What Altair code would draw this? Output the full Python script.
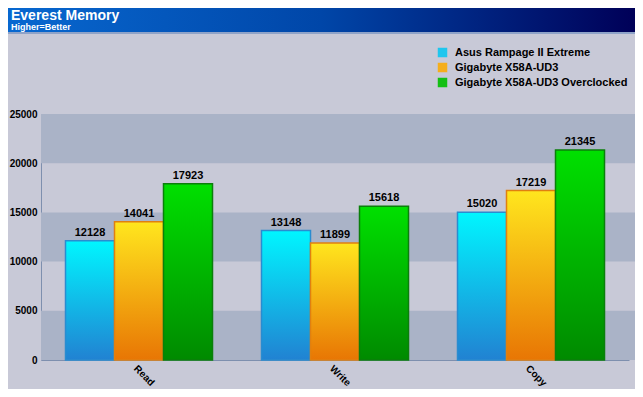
import altair as alt
import pandas as pd

categories = ["Read", "Write", "Copy"]
series = ["Asus Rampage II Extreme", "Gigabyte X58A-UD3", "Gigabyte X58A-UD3 Overclocked"]
asus = [12128, 13148, 15020]
gb = [14041, 11899, 17219]
gb_oc = [17923, 15618, 21345]
y_ticks = [0, 5000, 10000, 15000, 20000, 25000]

title_text = "Everest Memory"
subtitle_text = "Higher=Better"

rows = []
for s, vals in zip(series, [asus, gb, gb_oc]):
    for c, v in zip(categories, vals):
        rows.append({"cat": c, "series": s, "value": v})
df = pd.DataFrame(rows)

bands = pd.DataFrame({"y0": y_ticks[0:-1:2], "y1": y_ticks[1::2]})

FONT = "Liberation Sans"
PL, PT, PR, PB = 33, 106, 6, 29
W, H = 627 - PL - PR, 381 - PT - PB

solid = ["#1fc6ee", "#f5ae1c", "#14bf14"]
grads = [("#00f6ff", "#2182d2", "#2a8cd0"),
         ("#ffe61e", "#e87604", "#e08010"),
         ("#00e000", "#008a00", "#0b7f0b")]

x_enc = alt.X("cat:N", sort=categories,
              scale=alt.Scale(paddingInner=0.25, paddingOuter=0.125),
              axis=alt.Axis(title=None, labelAngle=45, labelFont=FONT, labelFontWeight="bold",
                            labelFontSize=10, labelColor="#000000", ticks=False,
                            domainColor="#7e8fae", labelPadding=3))
xo_enc = alt.XOffset("series:N", sort=series, scale=alt.Scale(paddingInner=0.0))
y_enc = alt.Y("value:Q", scale=alt.Scale(domain=[0, 25000], nice=False),
              axis=alt.Axis(title=None, values=y_ticks, grid=False, format="d", labelFont=FONT,
                            labelFontWeight="bold", labelFontSize=10, labelColor="#000000",
                            ticks=False, domainColor="#7e8fae", labelPadding=4))

band_layer = alt.Chart(bands).mark_rect(color="#aab3c7").encode(
    y=alt.Y("y0:Q", scale=alt.Scale(domain=[0, 25000], nice=False)),
    y2="y1:Q",
    x=alt.value(0), x2=alt.value(W + PR),
)

base = alt.Chart(df).mark_bar().encode(
    x=x_enc, xOffset=xo_enc, y=y_enc,
    color=alt.Color("series:N", sort=series,
                    scale=alt.Scale(domain=series, range=solid),
                    legend=alt.Legend(title=None, orient="none", legendX=W - 192, legendY=-67,
                                      symbolType="square", symbolSize=90,
                                      labelFont=FONT, labelFontWeight="bold", labelFontSize=11,
                                      labelColor="#000000", rowPadding=3, labelOffset=7,
                                      labelLimit=0, symbolStrokeWidth=0)),
)

grad_layers = []
for s, (top, bot, stroke) in zip(series, grads):
    g = alt.LinearGradient(gradient="linear",
                           stops=[alt.GradientStop(color=top, offset=0),
                                  alt.GradientStop(color=bot, offset=1)],
                           x1=0, x2=0, y1=0, y2=1)
    grad_layers.append(
        alt.Chart(df).transform_filter(alt.datum.series == s).mark_bar(
            fill=g, stroke=stroke, strokeWidth=1.5
        ).encode(x=x_enc, xOffset=xo_enc, y=y_enc)
    )

labels = alt.Chart(df).mark_text(dy=-8, font=FONT, fontWeight="bold", fontSize=11,
                                 color="#000000").encode(
    x=x_enc, xOffset=xo_enc, y=y_enc, text=alt.Text("value:Q", format="d"))

head = pd.DataFrame({"t": [title_text], "s": [subtitle_text]})
banner_grad = alt.LinearGradient(gradient="linear",
                                 stops=[alt.GradientStop(color="#0868d0", offset=0),
                                        alt.GradientStop(color="#0046a8", offset=0.5),
                                        alt.GradientStop(color="#000058", offset=1)],
                                 x1=0, x2=1, y1=0, y2=0)
banner = alt.Chart(head).mark_rect(fill=banner_grad).encode(
    x=alt.value(-PL), x2=alt.value(W + PR), y=alt.value(-PT), y2=alt.value(-PT + 24))
banner_line = alt.Chart(head).mark_rule(color="#8fa3c8", strokeWidth=2).encode(
    x=alt.value(-PL), x2=alt.value(W + PR), y=alt.value(-PT + 25))
t1 = alt.Chart(head).mark_text(align="left", baseline="alphabetic", font=FONT, fontWeight="bold",
                               fontSize=14, color="white").encode(
    x=alt.value(-PL + 3), y=alt.value(-PT + 12), text="t:N")
t2 = alt.Chart(head).mark_text(align="left", baseline="alphabetic", font=FONT, fontWeight="bold",
                               fontSize=9, color="white").encode(
    x=alt.value(-PL + 3), y=alt.value(-PT + 22), text="s:N")

chart = alt.layer(band_layer, base, *grad_layers, labels, banner, banner_line, t1, t2).properties(
    width=W, height=H,
    autosize=alt.AutoSizeParams(type="none"),
    padding={"left": PL, "top": PT, "right": PR, "bottom": PB},
    background="#c8c9d7",
).configure_view(stroke=None, fill="#c8c9d7")

chart.save("out.html", embed_options={"renderer": "svg", "actions": False})
